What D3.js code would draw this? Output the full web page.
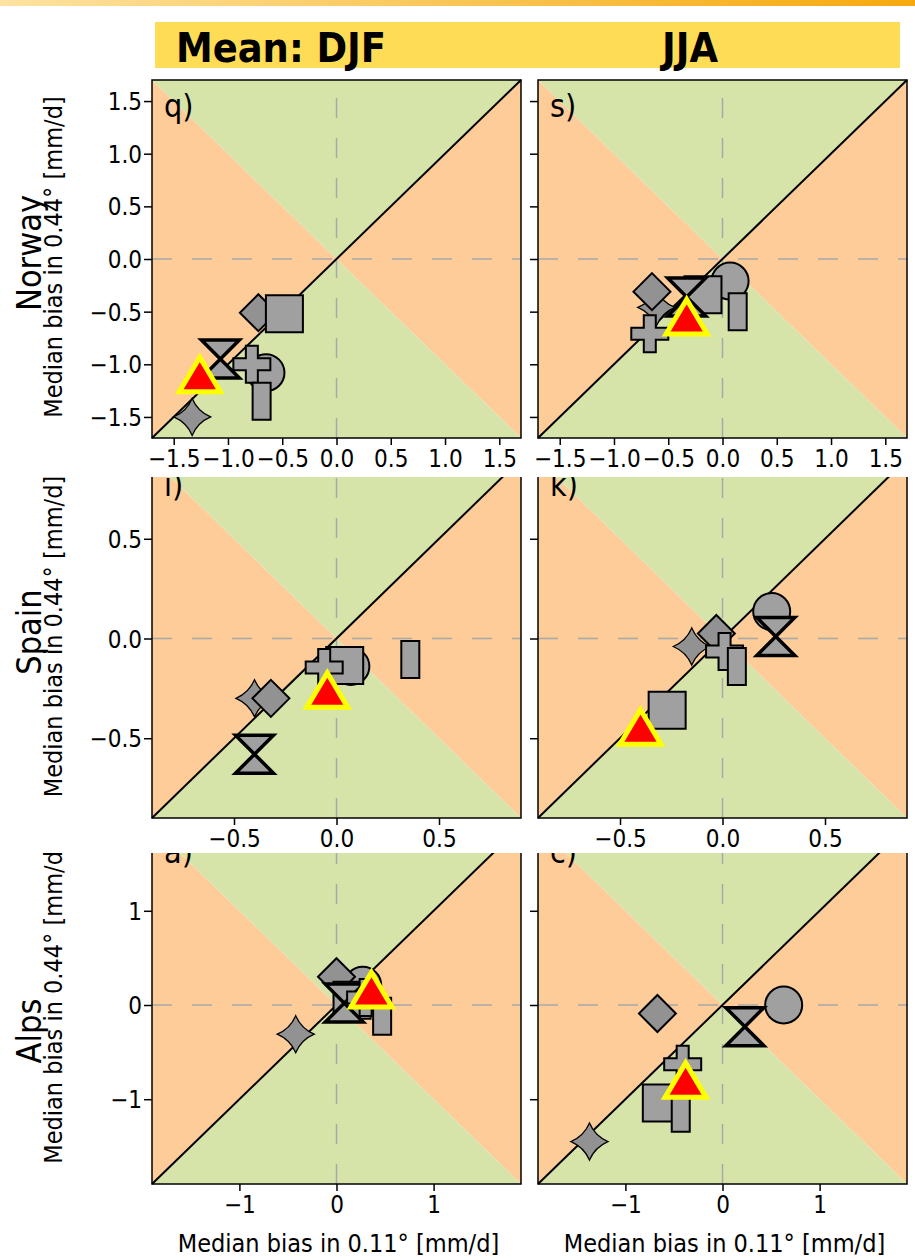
<!DOCTYPE html>
<html>
<head>
<meta charset="utf-8">
<script src="https://cdn.jsdelivr.net/npm/d3@7/dist/d3.min.js"></script>
<style>
  html, body { margin: 0; padding: 0; background: #ffffff; }
  svg { display: block; }
  text { font-family: "DejaVu Sans Condensed", "DejaVu Sans", sans-serif; fill: #000; }
</style>
</head>
<body>
<svg id="chart" width="915" height="1260"></svg>
<script>
// ---- data: median precipitation bias, 0.11° (x) vs 0.44° (y), mm/d ----
// model order: circle, star, diamond, square, hourglass, plus, rect, ensemble
const markerKinds = ["circle", "star", "diamond", "square", "hourglass", "plus", "rect", "ensemble"];

const regions = ["Norway", "Spain", "Alps"];
const seasons = ["Mean: DJF", "JJA"];
const panelLetters = [["q)", "s)"], ["i)", "k)"], ["a)", "c)"]];

const norwayDJF_x = [-0.65, -1.33, -0.72, -0.48, -1.07, -0.78, -0.69, -1.26];
const norwayDJF_y = [-1.08, -1.50, -0.51, -0.52, -0.95, -1.00, -1.35, -1.10];
const norwayJJA_x = [0.07, -0.61, -0.65, -0.18, -0.33, -0.67, 0.14, -0.33];
const norwayJJA_y = [-0.21, -0.46, -0.31, -0.34, -0.36, -0.71, -0.50, -0.55];

const spainDJF_x = [0.07, -0.40, -0.32, 0.04, -0.40, -0.06, 0.36, -0.045];
const spainDJF_y = [-0.14, -0.30, -0.30, -0.135, -0.58, -0.145, -0.105, -0.26];
const spainJJA_x = [0.24, -0.15, -0.03, -0.27, 0.26, 0.01, 0.07, -0.40];
const spainJJA_y = [0.135, -0.04, 0.025, -0.36, 0.01, -0.065, -0.14, -0.445];

const alpsDJF_x = [0.27, -0.42, 0.00, 0.16, 0.08, 0.30, 0.47, 0.36];
const alpsDJF_y = [0.21, -0.31, 0.30, 0.05, 0.02, 0.08, -0.12, 0.16];
const alpsJJA_x = [0.63, -1.37, -0.67, -0.63, 0.23, -0.41, -0.43, -0.38];
const alpsJJA_y = [0.00, -1.45, -0.09, -1.04, -0.23, -0.63, -1.15, -0.80];

// axis limits and ticks per region (same on both axes)
const axisLimits = [1.7, 0.9, 1.9];
const tickValues = [
  [-1.5, -1.0, -0.5, 0.0, 0.5, 1.0, 1.5],
  [-0.5, 0.0, 0.5],
  [-1, 0, 1]
];
const tickFormats = [".1f", ".1f", "d"];

const yLabel = "Median bias in 0.44° [mm/d]";
const xLabel = "Median bias in 0.11° [mm/d]";

const panelData = [
  [[norwayDJF_x, norwayDJF_y], [norwayJJA_x, norwayJJA_y]],
  [[spainDJF_x, spainDJF_y], [spainJJA_x, spainJJA_y]],
  [[alpsDJF_x, alpsDJF_y], [alpsJJA_x, alpsJJA_y]]
];

// ---- layout ----
const cols = [{ x0: 152, x1: 521 }, { x0: 538, x1: 907 }];
const rows = [
  { y0: 80, y1: 438, clipTop: 70, clipBottom: 477, nameY: 253 },
  { y0: 459, y1: 818, clipTop: 477, clipBottom: 853, nameY: 632 },
  { y0: 826, y1: 1184, clipTop: 853, clipBottom: 1260, nameY: 1031 }
];

const ORANGE = "#fdcc99";
const GREEN = "#d6e4aa";
const GRAY = "#a0a0a0";
const GRAY_DARK = "#929292";
const FONT_TICK = 24;
const FONT_LABEL = 25;
const FONT_NAME = 34;

const svg = d3.select("#chart");

// header strip
const defs = svg.append("defs");
const grad = defs.append("linearGradient").attr("id", "topStrip")
  .attr("x1", "0%").attr("x2", "100%").attr("y1", "0%").attr("y2", "0%");
grad.append("stop").attr("offset", "0%").attr("stop-color", "#fde2a0");
grad.append("stop").attr("offset", "100%").attr("stop-color", "#f6a90e");
svg.append("rect").attr("x", 0).attr("y", 0).attr("width", 915).attr("height", 6)
  .attr("fill", "url(#topStrip)");

// marker shapes, drawn around (0,0)
function markerPath(kind) {
  const p = d3.path();
  switch (kind) {
    case "square":
      p.rect(-18.5, -18.5, 37, 37); break;
    case "rect":
      p.rect(-9, -18.5, 18, 37); break;
    case "circle":
      p.arc(0, 0, 18.5, 0, 2 * Math.PI); break;
    case "diamond":
      p.moveTo(0, -18.5); p.lineTo(18.5, 0); p.lineTo(0, 18.5); p.lineTo(-18.5, 0); p.closePath(); break;
    case "hourglass":
      p.moveTo(-19, -19); p.lineTo(19, -19); p.lineTo(-19, 19); p.lineTo(19, 19); p.closePath(); break;
    case "plus": {
      const a = 18.5, b = 6;
      p.moveTo(-b, -a); p.lineTo(b, -a); p.lineTo(b, -b); p.lineTo(a, -b); p.lineTo(a, b);
      p.lineTo(b, b); p.lineTo(b, a); p.lineTo(-b, a); p.lineTo(-b, b); p.lineTo(-a, b);
      p.lineTo(-a, -b); p.lineTo(-b, -b); p.closePath(); break;
    }
    case "star": {
      const R = 18.5, r = 5.5;
      p.moveTo(0, -R);
      p.quadraticCurveTo(r, -r, R, 0);
      p.quadraticCurveTo(r, r, 0, R);
      p.quadraticCurveTo(-r, r, -R, 0);
      p.quadraticCurveTo(-r, -r, 0, -R);
      p.closePath(); break;
    }
    case "ensemble":
      p.moveTo(0, -17.5); p.lineTo(20.5, 17); p.lineTo(-20.5, 17); p.closePath(); break;
  }
  return p.toString();
}

function markerStyle(sel, kind) {
  if (kind === "ensemble") {
    sel.attr("fill", "#ff0000").attr("stroke", "#ffff00").attr("stroke-width", 5)
      .attr("stroke-linejoin", "miter");
  } else {
    sel.attr("fill", (kind === "star" || kind === "diamond") ? GRAY_DARK : GRAY)
      .attr("stroke", "#000")
      .attr("stroke-width", kind === "hourglass" ? 3.5 : (kind === "star" ? 1.3 : 2))
      .attr("stroke-linejoin", "miter");
  }
}

// rows are drawn bottom-up so each row's tick band sits above the one below
[2, 1, 0].forEach(ri => {
  const row = rows[ri];
  const L = axisLimits[ri];
  const clipId = "rowClip" + ri;
  defs.append("clipPath").attr("id", clipId).append("rect")
    .attr("x", 0).attr("y", row.clipTop).attr("width", 915)
    .attr("height", row.clipBottom - row.clipTop);

  const g = svg.append("g").attr("clip-path", `url(#${clipId})`);
  g.append("rect").attr("x", 0).attr("y", row.clipTop).attr("width", 915)
    .attr("height", row.clipBottom - row.clipTop).attr("fill", "#fff");

  const ymid = (row.y0 + row.y1) / 2;

  // region name and y-axis title
  g.append("text")
    .attr("transform", `translate(41,${row.nameY}) rotate(-90)`)
    .attr("text-anchor", "middle").attr("font-size", FONT_NAME).text(regions[ri]);
  g.append("text")
    .attr("transform", `translate(62,${ymid - 2}) rotate(-90)`)
    .attr("text-anchor", "middle").attr("font-size", FONT_LABEL).text(yLabel);

  cols.forEach((col, ci) => {
    const x = d3.scaleLinear().domain([-L, L]).range([col.x0, col.x1]);
    const y = d3.scaleLinear().domain([-L, L]).range([row.y1, row.y0]);
    const pg = g.append("g");

    const poly = pts => pts.map(([a, b]) => [x(a), y(b)].join(",")).join(" ");
    pg.append("polygon").attr("points", poly([[-L, -L], [0, 0], [-L, L]])).attr("fill", ORANGE);
    pg.append("polygon").attr("points", poly([[L, -L], [0, 0], [L, L]])).attr("fill", ORANGE);
    pg.append("polygon").attr("points", poly([[-L, L], [0, 0], [L, L]])).attr("fill", GREEN);
    pg.append("polygon").attr("points", poly([[-L, -L], [0, 0], [L, -L]])).attr("fill", GREEN);

    // zero reference lines
    pg.append("line").attr("x1", x(-L)).attr("x2", x(L)).attr("y1", y(0)).attr("y2", y(0))
      .attr("stroke", "#a8a8a8").attr("stroke-width", 1.5).attr("stroke-dasharray", "20,20");
    pg.append("line").attr("x1", x(0)).attr("x2", x(0)).attr("y1", y(-L)).attr("y2", y(L))
      .attr("stroke", "#a8a8a8").attr("stroke-width", 1.5).attr("stroke-dasharray", "20,20");

    // 1:1 line
    pg.append("line").attr("x1", x(-L)).attr("y1", y(-L)).attr("x2", x(L)).attr("y2", y(L))
      .attr("stroke", "#000").attr("stroke-width", 2);

    // panel letter
    pg.append("text").attr("x", col.x0 + 12).attr("y", row.y0 + 37)
      .attr("font-size", 32).text(panelLetters[ri][ci]);

    // markers
    const [xs, ys] = panelData[ri][ci];
    const pts = markerKinds.map((k, i) => ({ kind: k, xv: xs[i], yv: ys[i] }));
    pg.selectAll("path.mk").data(pts).enter().append("path")
      .attr("class", "mk")
      .attr("d", d => markerPath(d.kind))
      .attr("transform", d => `translate(${x(d.xv)},${y(d.yv)})`)
      .each(function (d) { markerStyle(d3.select(this), d.kind); });

    // frame
    pg.append("rect").attr("x", col.x0).attr("y", row.y0)
      .attr("width", col.x1 - col.x0).attr("height", row.y1 - row.y0)
      .attr("fill", "none").attr("stroke", "#000").attr("stroke-width", 1.5);

    // axes
    const fmt = d3.format(tickFormats[ri]);
    const xa = g.append("g").attr("transform", `translate(0,${row.y1})`)
      .call(d3.axisBottom(x).tickValues(tickValues[ri]).tickFormat(fmt).tickSize(7).tickPadding(5));
    const ya = g.append("g").attr("transform", `translate(${col.x0},0)`)
      .call(d3.axisLeft(y).tickValues(tickValues[ri]).tickFormat(ci === 0 ? fmt : () => "")
        .tickSize(8).tickPadding(2));
    [xa, ya].forEach(a => {
      a.select(".domain").remove();
      a.selectAll(".tick line").attr("stroke", "#000").attr("stroke-width", 1.5);
      a.selectAll(".tick text").attr("font-size", FONT_TICK)
        .attr("font-family", "DejaVu Sans Condensed, DejaVu Sans").attr("fill", "#000");
    });
    ya.selectAll(".tick text").attr("dy", "0.36em");

    if (ri === 2) {
      g.append("text").attr("x", (col.x0 + col.x1) / 2 + 2).attr("y", 1252)
        .attr("text-anchor", "middle").attr("font-size", FONT_LABEL).text(xLabel);
    }
  });
});

// season banner
svg.append("rect").attr("x", 155).attr("y", 22).attr("width", 745).attr("height", 46)
  .attr("fill", "#fedc56");
svg.append("text").attr("x", 176).attr("y", 62).attr("font-size", 41)
  .attr("font-weight", "bold").attr("font-family", "DejaVu Sans Condensed, DejaVu Sans")
  .text(seasons[0]);
svg.append("text").attr("x", 662).attr("y", 62).attr("font-size", 41)
  .attr("font-weight", "bold").attr("font-family", "DejaVu Sans Condensed, DejaVu Sans")
  .text(seasons[1]);
</script>
</body>
</html>
